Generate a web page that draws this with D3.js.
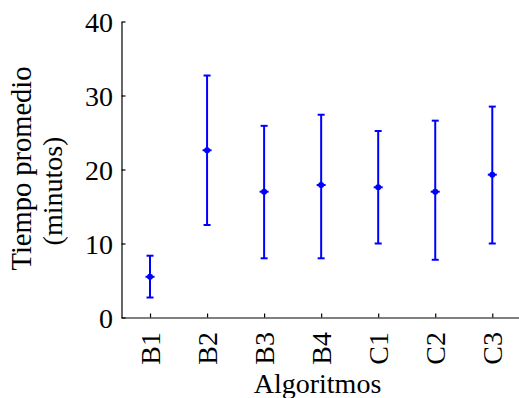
<!DOCTYPE html>
<html>
<head>
<meta charset="utf-8">
<script src="https://cdn.jsdelivr.net/npm/d3@7"></script>
<style>
  body { margin: 0; background: #fff; }
  text { font-family: "Liberation Serif", "Times New Roman", serif; }
</style>
</head>
<body>
<div id="chart"></div>
<script>
// Data
const algoritmos = ["B1", "B2", "B3", "B4", "C1", "C2", "C3"];
const media = [5.5, 22.6, 17.0, 17.9, 17.6, 17.0, 19.3];
const superior = [8.35, 32.7, 25.9, 27.4, 25.2, 26.6, 28.5];
const inferior = [2.7, 12.5, 8.0, 8.0, 10.0, 7.8, 10.0];
const yTicks = [0, 10, 20, 30, 40];

const width = 519;
const height = 398;

const svg = d3.select("#chart")
    .append("svg")
    .attr("width", width)
    .attr("height", height);

const data = algoritmos.map((a, i) => ({ a, m: media[i], hi: superior[i], lo: inferior[i] }));

// Scales
const x = d3.scalePoint()
    .domain(algoritmos)
    .range([121.5, 520.8])
    .padding(0.5);

const y = d3.scaleLinear()
    .domain([0, 40])
    .range([317.5, 21.5]);

// Axes (ticks point inward)
const yAxis = svg.append("g")
    .attr("transform", "translate(121.5,0)")
    .call(d3.axisLeft(y).tickValues(yTicks).tickSizeInner(-4).tickSizeOuter(0).tickPadding(8.5));

const xAxis = svg.append("g")
    .attr("transform", "translate(0,317.5)")
    .call(d3.axisBottom(x).tickSizeInner(-4).tickSizeOuter(0));

[yAxis, xAxis].forEach(g => {
    g.selectAll("path, line").attr("stroke", "#000").attr("stroke-width", 1.2);
    g.selectAll("text").attr("fill", "#000").style("font-size", "28px")
        .style("font-family", "'Liberation Serif', serif");
});

yAxis.selectAll("text").attr("dy", "0.34em");

xAxis.selectAll("text")
    .attr("text-anchor", "end")
    .attr("transform", "rotate(-90)")
    .attr("x", -14.5)
    .attr("y", 0)
    .attr("dy", "0.33em");

// Error bars
const bars = svg.selectAll(".err")
    .data(data)
    .enter().append("g")
    .attr("class", "err")
    .attr("stroke", "#0000ff")
    .attr("stroke-width", 2);

bars.append("line")
    .attr("x1", d => x(d.a)).attr("x2", d => x(d.a))
    .attr("y1", d => y(d.lo)).attr("y2", d => y(d.hi));

bars.append("line")
    .attr("x1", d => x(d.a) - 3.5).attr("x2", d => x(d.a) + 3.5)
    .attr("y1", d => y(d.hi)).attr("y2", d => y(d.hi));

bars.append("line")
    .attr("x1", d => x(d.a) - 3.5).attr("x2", d => x(d.a) + 3.5)
    .attr("y1", d => y(d.lo)).attr("y2", d => y(d.lo));

bars.append("line")
    .attr("x1", d => x(d.a) - 4.5).attr("x2", d => x(d.a) + 4.5)
    .attr("y1", d => y(d.m)).attr("y2", d => y(d.m));

bars.append("circle")
    .attr("cx", d => x(d.a))
    .attr("cy", d => y(d.m))
    .attr("r", 3)
    .attr("fill", "#0000ff")
    .attr("stroke", "none");

// Axis labels
svg.append("text")
    .attr("x", 317.5)
    .attr("y", 393)
    .attr("text-anchor", "middle")
    .style("font-size", "28px")
    .text("Algoritmos");

svg.append("text")
    .attr("transform", "translate(31,168.5) rotate(-90)")
    .attr("text-anchor", "middle")
    .style("font-size", "28.5px")
    .text("Tiempo promedio");

svg.append("text")
    .attr("transform", "translate(62,191) rotate(-90)")
    .attr("text-anchor", "middle")
    .style("font-size", "28px")
    .text("(minutos)");
</script>
</body>
</html>
